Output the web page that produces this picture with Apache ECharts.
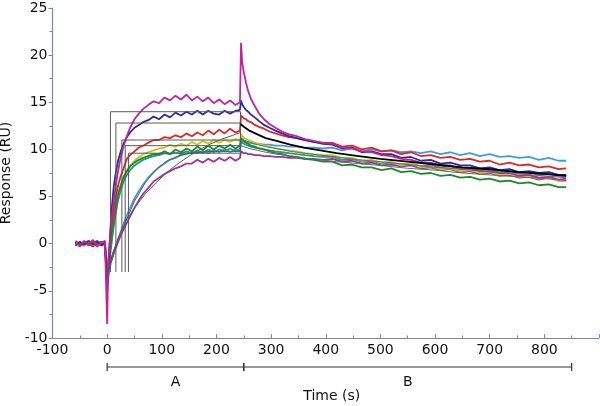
<!DOCTYPE html>
<html>
<head>
<meta charset="utf-8">
<script src="https://cdn.jsdelivr.net/npm/echarts@6/dist/echarts.min.js"></script>
<style>html,body{margin:0;padding:0;background:#fff}#c{width:600px;height:406px}</style>
</head>
<body>
<div id="c"></div>
<script>
// ---- Data ----
const times = [-58,-50,-42,-34,-26,-18,-10,-4,
  0,2,5,8,12,16,20,25,30,36,42,50,58,66,75,85,95,105,115,125,135,145,155,165,175,185,195,205,215,225,235,243,
  245,247,250,254,258,263,270,278,287,297,308,320,333,347,362,378,395,
  412,430,448,466,484,502,520,538,556,574,592,610,628,646,664,682,700,718,736,754,772,790,808,826,840];

const magentaTop = [0.2,-0.3,0.3,-0.1,0.4,-0.2,0.1,0.3,
  -8.5,-2.0,0.5,2.5,4.5,6.3,7.7,9.2,10.3,11.4,12.3,13.2,13.8,14.3,14.7,15.1,14.9,15.5,15.2,15.7,15.3,15.8,15.2,15.6,15.1,15.5,14.9,15.3,14.8,15.2,14.7,15.0,
  21.3,19.3,18.2,17.1,16.2,15.4,14.6,13.8,13.2,12.7,12.3,11.9,11.6,11.4,11.1,10.9,10.7,
  10.6,10.2,10.1,9.8,9.7,9.4,9.3,9.0,8.9,8.6,8.6,8.3,8.3,7.9,8.0,7.7,7.7,7.5,7.5,7.2,7.3,7.0,7.1,6.8,6.9];
const navy = [-0.2,0.2,-0.1,0.3,0.0,0.2,-0.2,0.1,
  -5.0,-3.5,0.5,3.5,6.0,7.6,8.8,9.8,10.6,11.3,11.8,12.3,12.6,12.9,13.1,13.5,13.2,13.7,13.4,13.9,13.6,14.0,13.7,14.1,13.7,14.1,13.8,13.7,14.1,13.8,14.1,14.2,
  15.2,14.8,14.5,14.2,14.0,13.7,13.4,13.0,12.6,12.3,12.0,11.7,11.4,11.2,11.0,10.8,10.6,
  10.5,10.1,10.2,9.7,9.8,9.5,9.5,9.1,9.2,8.8,8.9,8.5,8.6,8.3,8.3,8.0,8.1,7.8,7.9,7.6,7.7,7.5,7.6,7.3,7.3];
const red = [0.1,-0.2,0.2,0.0,-0.3,0.1,0.2,-0.1,
  -3.5,-2.0,0.0,1.8,3.5,5.0,6.2,7.2,8.0,9.0,9.4,9.8,10.2,10.4,10.7,11.0,11.0,11.3,11.2,11.5,11.3,11.7,11.4,11.8,11.5,12.0,11.6,12.1,11.7,12.2,11.8,12.0,
  13.6,13.5,13.3,13.2,13.0,12.9,12.6,12.4,12.2,11.9,11.7,11.5,11.3,11.2,11.0,10.8,10.7,
  10.7,10.3,10.4,10.0,10.2,9.8,9.9,9.5,9.7,9.3,9.4,9.1,9.2,8.9,9.0,8.7,8.8,8.4,8.6,8.3,8.4,8.1,8.2,7.9,8.0];
const yellow = [0.0,0.2,-0.2,0.1,0.2,-0.1,0.0,0.2,
  -3.0,-2.0,-0.5,1.0,2.8,4.2,5.3,6.3,7.1,7.8,8.3,8.8,9.2,9.5,9.7,9.9,10.1,10.2,10.5,10.3,10.6,10.4,10.8,10.5,10.9,10.6,11.0,10.7,11.0,10.8,11.1,10.9,
  11.6,11.4,11.2,11.1,11.0,10.9,10.7,10.6,10.4,10.3,10.1,10.0,9.9,9.8,9.6,9.5,9.4,
  9.4,9.1,9.1,8.8,8.9,8.6,8.7,8.3,8.5,8.1,8.2,7.9,8.0,7.7,7.8,7.5,7.6,7.3,7.4,7.1,7.2,6.9,7.0,6.7,6.8];
const green = [0.1,0.0,0.2,-0.2,0.1,0.3,-0.1,0.0,
  -3.5,-2.5,-1.0,0.8,2.5,4.0,5.2,6.2,7.0,7.7,8.2,8.6,8.9,9.1,9.3,9.5,9.5,9.8,9.5,10.0,9.7,10.1,9.8,10.3,9.9,10.4,10.0,10.4,10.1,10.5,10.1,10.4,
  11.2,11.0,10.9,10.7,10.6,10.4,10.3,10.1,10.0,9.8,9.6,9.5,9.3,9.2,9.0,8.9,8.7,
  8.7,8.3,8.4,8.1,8.1,7.8,8.0,7.6,7.7,7.4,7.5,7.2,7.3,7.0,7.1,6.8,6.9,6.6,6.7,6.4,6.5,6.2,6.3,6.0,6.0];
const teal = [-0.1,0.1,0.0,0.2,-0.1,0.0,0.2,-0.2,
  -4.0,-3.0,-1.5,0.0,1.8,3.3,4.6,5.7,6.6,7.3,7.8,8.3,8.6,8.9,9.1,9.3,9.4,9.6,9.5,9.7,9.5,9.8,9.6,9.9,9.6,10.0,9.7,10.0,9.8,10.1,9.8,9.9,
  10.8,10.7,10.6,10.5,10.4,10.3,10.2,10.1,10.0,9.9,9.8,9.7,9.6,9.5,9.4,9.3,9.2,
  9.2,8.9,9.0,8.7,8.8,8.5,8.6,8.4,8.5,8.2,8.3,8.1,8.2,7.9,8.0,7.8,7.9,7.6,7.7,7.5,7.6,7.3,7.4,7.2,7.2];
const lightBlue = [0.2,-0.1,0.1,0.3,-0.2,0.0,0.1,-0.1,
  -4.5,-3.5,-2.5,-1.8,-1.0,-0.3,0.4,1.3,2.1,3.0,3.8,4.8,5.6,6.3,7.0,7.6,8.1,8.5,8.9,9.1,9.4,9.5,9.7,9.6,9.8,9.6,9.9,9.7,10.0,9.7,10.0,9.9,
  10.9,10.9,10.8,10.8,10.7,10.7,10.6,10.6,10.5,10.5,10.4,10.4,10.3,10.3,10.2,10.2,10.1,
  10.2,9.9,10.1,9.8,10.0,9.8,9.9,9.7,9.8,9.6,9.8,9.5,9.7,9.4,9.6,9.3,9.5,9.2,9.3,9.1,9.2,8.9,9.1,8.8,8.8];
const magentaBottom = [0.3,0.0,-0.2,0.2,0.1,-0.3,0.2,0.0,
  -3.0,-2.6,-2.2,-1.6,-1.0,-0.4,0.2,0.9,1.5,2.2,2.9,3.8,4.6,5.3,5.9,6.6,7.0,7.4,7.7,8.0,8.2,8.5,8.5,8.9,8.6,9.0,8.7,9.1,8.8,9.2,8.8,9.1,
  9.8,9.7,9.6,9.6,9.5,9.5,9.4,9.4,9.3,9.3,9.2,9.2,9.1,9.1,9.0,9.0,8.9,
  9.0,8.7,8.8,8.5,8.6,8.3,8.4,8.2,8.3,8.0,8.1,7.8,7.9,7.6,7.7,7.4,7.5,7.2,7.3,7.0,7.1,6.8,7.0,6.7,6.7];

// fitted model curves
const stepStart = [6, 16, 27, 33, 39];
const stepLevel = [14.0, 12.8, 11.0, 10.4, 9.6];
const stepFloor = -3;
const stepEnd = 244;
const stepDrop = 9.2;
const decayTimes = [244,250,260,275,290,310,335,360,390,420,460,500,550,600,650,700,750,800,840];
const decayBlack = [12.7,12.4,12.0,11.6,11.2,10.9,10.5,10.2,9.9,9.6,9.3,9.0,8.7,8.4,8.1,7.9,7.6,7.4,7.2];
const decayGrayA = [11.2,11.0,10.8,10.5,10.3,10.1,9.8,9.6,9.4,9.2,8.9,8.7,8.4,8.1,7.9,7.6,7.4,7.2,7.0];
const decayGrayB = [10.4,10.3,10.1,9.9,9.7,9.5,9.3,9.1,8.9,8.7,8.5,8.3,8.0,7.8,7.5,7.3,7.1,6.9,6.7];
const slowTimes = [0,10,20,35,50,70,90,110,130,150,170,190,210,230,244];
const slowFitA = [-3.0,-1.0,0.6,2.5,3.8,5.3,6.5,7.6,8.5,9.3,10.0,10.6,11.1,11.5,11.8];
const slowFitB = [-3.0,-1.5,0.2,2.5,4.5,6.5,7.9,8.8,9.3,9.6,9.7,9.8,9.8,9.8,9.8];

// phases under the axis
const phaseNames = ['A', 'B'];
const phaseStart = [0, 250];
const phaseEnd = [250, 850];

// ---- Chart ----
const FONT = 'DejaVu Sans';
const axisColor = '#7d8b98';
const traces = [
  { v: lightBlue, c: '#3d9fdf' },
  { v: magentaBottom, c: '#a3309f' },
  { v: teal, c: '#1f9a8c' },
  { v: yellow, c: '#c6c61e' },
  { v: green, c: '#1b8a2c' },
  { v: red, c: '#e02626' },
  { v: navy, c: '#2b2d9c' },
  { v: magentaTop, c: '#c42298' }
];
const series = [];
traces.forEach(tr => {
  series.push({
    type: 'line', showSymbol: false, silent: true,
    data: times.map((t, i) => [t, tr.v[i]]),
    lineStyle: { color: tr.c, width: 1.8 }, z: 2
  });
});
stepStart.forEach((s, i) => {
  series.push({
    type: 'line', showSymbol: false, silent: true,
    data: [[s, stepFloor], [s, stepLevel[i]], [stepEnd, stepLevel[i]], [stepEnd, stepDrop]],
    lineStyle: { color: '#5a5a5a', width: 1 }, z: 3
  });
});
[[decayGrayB, '#6a6a6a', 1], [decayGrayA, '#6a6a6a', 1], [decayBlack, '#000', 1.8]].forEach(d => {
  series.push({
    type: 'line', showSymbol: false, silent: true,
    data: decayTimes.map((t, i) => [t, d[0][i]]),
    lineStyle: { color: d[1], width: d[2] }, z: 4
  });
});
[slowFitA, slowFitB].forEach(f => {
  series.push({
    type: 'line', showSymbol: false, silent: true,
    data: slowTimes.map((t, i) => [t, f[i]]),
    lineStyle: { color: '#5a5a5a', width: 1 }, z: 3
  });
});
series.push({
  type: 'custom', clip: false, silent: true, z: 5,
  data: phaseNames.map((n, i) => [phaseStart[i], phaseEnd[i]]),
  renderItem: function (params, api) {
    const s = api.coord([api.value(0), -10]);
    const e = api.coord([api.value(1), -10]);
    const y = s[1] + 29;
    const st = { stroke: '#333', lineWidth: 1.2 };
    return {
      type: 'group',
      children: [
        { type: 'line', shape: { x1: s[0], y1: y, x2: e[0], y2: y }, style: st },
        { type: 'line', shape: { x1: s[0], y1: y - 4, x2: s[0], y2: y + 4 }, style: st },
        { type: 'line', shape: { x1: e[0], y1: y - 4, x2: e[0], y2: y + 4 }, style: st },
        { type: 'text', style: { text: phaseNames[params.dataIndex], x: (s[0] + e[0]) / 2, y: y + 15,
          align: 'center', verticalAlign: 'middle', font: '14px ' + FONT, fill: '#111' } }
      ]
    };
  }
});

const chart = echarts.init(document.getElementById('c'), null, { renderer: 'canvas' });
chart.setOption({
  animation: false,
  grid: { left: 52.5, right: 1, top: 8, bottom: 68, containLabel: false, outerBoundsMode: 'none' },
  xAxis: {
    type: 'value', min: -100, max: 900, interval: 100,
    name: 'Time (s)', nameLocation: 'middle', nameGap: 51,
    nameTextStyle: { fontFamily: FONT, fontSize: 14, color: '#111', padding: [0, 0, 0, 12] },
    axisLine: { show: true, onZero: false, lineStyle: { color: axisColor, width: 1.2 } },
    axisTick: { show: true, inside: true, length: 4, lineStyle: { color: axisColor } },
    minorTick: { show: true, splitNumber: 2, length: 2.5, lineStyle: { color: axisColor } },
    splitLine: { show: false },
    axisLabel: { show: true, showMaxLabel: false, margin: 5, fontFamily: FONT, fontSize: 14, color: '#111' }
  },
  yAxis: {
    type: 'value', min: -10, max: 25, interval: 5,
    name: 'Response (RU)', nameLocation: 'middle', nameGap: 33,
    nameTextStyle: { fontFamily: FONT, fontSize: 14, color: '#111' },
    axisLine: { show: true, onZero: false, lineStyle: { color: axisColor, width: 1.2 } },
    axisTick: { show: true, inside: false, length: 4, lineStyle: { color: axisColor } },
    minorTick: { show: true, splitNumber: 2, length: 3, lineStyle: { color: axisColor } },
    splitLine: { show: false },
    axisLabel: { show: true, margin: 5, fontFamily: FONT, fontSize: 14, color: '#111' }
  },
  series: series
});
</script>
</body>
</html>
